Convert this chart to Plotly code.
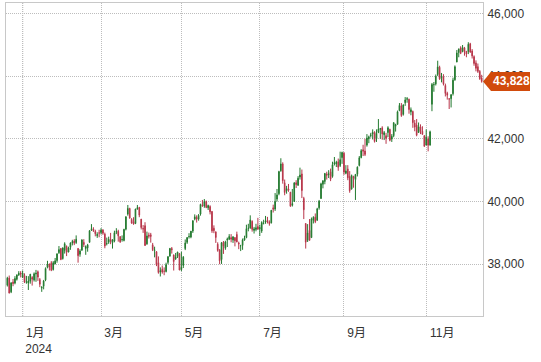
import plotly.graph_objects as go
import pandas as pd

# ---------------- data ----------------
FIRST_DAY = "2023-12-19"
LAST_DAY = "2024-12-13"
HOLIDAYS = ["2023-12-25", "2024-01-01", "2024-01-15", "2024-02-19", "2024-03-29",
            "2024-05-27", "2024-06-19", "2024-07-04", "2024-09-02", "2024-11-28"]

OPEN = [
    # Dec 2023
    37330, 37560, 37120, 37430, 37400, 37520, 37660, 37720,
    # Jan
    37590, 37640, 37420, 37400, 37460, 37580, 37500, 37690, 37760, 37510,
    37240, 37300, 37500, 37900, 38010, 38050, 37830, 38010, 38120, 38370, 38500,
    # Feb
    38180, 38440, 38570, 38390, 38540, 38680, 38740, 38690, 38500, 38320,
    38450, 38700, 38500, 38520, 38700, 39100, 39120, 39050, 38910, 39000,
    # Mar
    39010, 39090, 38960, 38650, 38700, 38800, 38690, 38740, 39020, 39050,
    38880, 38780, 38760, 39120, 39600, 39780, 39430, 39360, 39300, 39760,
    # Apr
    39810, 39440, 39140, 39230, 38650, 38930, 38940, 38620, 38440, 38400,
    38050, 37750, 37840, 37780, 37770, 38060, 38260, 38500, 38300, 38160, 38250, 38340,
    # May
    37830, 37960, 38500, 38700, 38880, 38870, 39060, 39440, 39500, 39440,
    39600, 39890, 39860, 40000, 39800, 39840, 39680, 39150, 39030, 38640, 38460, 38150,
    # Jun
    38700, 38510, 38770, 38800, 38850, 38770, 38850, 38950, 38680, 38580,
    38600, 38770, 38850, 39140, 39160, 39370, 39080, 39110, 39200,
    # Jul
    39130, 39060, 39300, 39350, 39400, 39350, 39320, 39800, 39760, 40080,
    40250, 40980, 41200, 40600, 40340, 40400, 40300, 39880, 40000, 40600, 40520, 40780,
    # Aug
    40880, 40100, 39300, 38760, 39080, 38850, 39400, 39500, 39400, 39800,
    40100, 40550, 40640, 40880, 40850, 40950, 40800, 41200, 41200, 41270, 41150, 41400,
    # Sep
    41540, 40900, 41040, 40800, 40400, 40800, 40700, 40870, 41150, 41400,
    41650, 41610, 41800, 42000, 42100, 42150, 42210, 42000, 42200, 42300,
    # Oct
    42350, 42130, 42100, 42200, 42300, 41990, 42100, 42400, 42460, 42900,
    43050, 42780, 43150, 43260, 43260, 42860, 42870, 42500, 42440, 42200, 42380, 42240, 42100,
    # Nov
    41800, 42000, 41800, 43100, 43720, 43750, 44050, 44280, 43930, 43980,
    43700, 43450, 43270, 43280, 43440, 43880, 44450, 44750, 44900, 44780,
    # Dec
    44900, 44790, 44780, 45030, 44800, 44620, 44420, 44300, 44150, 43940,
]

HIGH = [
    37600, 37640, 37430, 37530, 37620, 37680, 37780, 37780,
    37800, 37710, 37630, 37620, 37690, 37620, 37740, 37820, 37800, 37560,
    37300, 37500, 37900, 38110, 38020, 38100, 38100, 38200, 38340, 38580, 38520,
    38540, 38700, 38600, 38560, 38700, 38780, 38800, 38920, 38520, 38480,
    38800, 38800, 38600, 38650, 39090, 39280, 39180, 39100, 39020, 39100,
    39150, 39120, 39010, 38850, 38880, 39000, 38800, 39070, 39150, 39100,
    38900, 38920, 39130, 39530, 39890, 39800, 39470, 39500, 39770, 39890,
    39830, 39440, 39250, 39340, 39040, 39010, 39000, 38680, 38560, 38420,
    38250, 37900, 37960, 37900, 38050, 38260, 38520, 38550, 38300, 38360, 38400, 38360,
    38400, 38260, 38790, 38860, 38990, 39060, 39400, 39590, 39560, 39600,
    39930, 40050, 40080, 40030, 39900, 39880, 39700, 39240, 39050, 38700, 38480, 38710,
    38740, 38750, 38850, 38960, 38960, 38900, 38860, 39040, 38720, 38620,
    38820, 38910, 39260, 39290, 39560, 39400, 39190, 39290, 39480,
    39260, 39370, 39420, 39540, 39510, 39400, 39730, 39900, 40270, 40400,
    40980, 41380, 41250, 40700, 40500, 40560, 40300, 40400, 40620, 40680, 40810, 41080,
    41020, 40150, 39300, 39280, 39440, 39490, 39530, 39620, 39800, 40050,
    40600, 40680, 40900, 40950, 41000, 41050, 41270, 41420, 41300, 41370, 41590, 41590,
    41580, 41160, 41160, 40970, 40860, 40820, 40880, 41120, 41450, 41670,
    41810, 42000, 42150, 42100, 42190, 42300, 42240, 42300, 42630, 42340,
    42400, 42250, 42190, 42400, 42320, 42150, 42530, 42480, 42900, 43140,
    43140, 43100, 43330, 43330, 43280, 43000, 42900, 42600, 42630, 42520, 42460, 42400, 42110,
    42300, 42080, 42260, 43780, 43810, 44050, 44490, 44330, 44100, 44060,
    43760, 43500, 43300, 43420, 43950, 44340, 44830, 44880, 44950, 44990,
    44930, 44800, 45080, 45060, 44860, 44660, 44500, 44400, 44190, 44040,
]

LOW = [
    37290, 37070, 37080, 37300, 37360, 37480, 37630, 37580,
    37560, 37400, 37380, 37180, 37380, 37320, 37450, 37440, 37470, 37270,
    37120, 37200, 37460, 37870, 37800, 37780, 37800, 38000, 38050, 38330, 38130,
    38150, 38340, 38260, 38380, 38460, 38600, 38610, 38650, 38050, 38240,
    38430, 38550, 38300, 38400, 38690, 39060, 39030, 38890, 38840, 38860,
    38950, 38940, 38510, 38600, 38650, 38640, 38500, 38700, 38960, 38720,
    38680, 38720, 38730, 39080, 39550, 39450, 39290, 39260, 39280, 39740,
    39500, 39110, 39000, 38590, 38620, 38820, 38690, 38420, 38220, 37940,
    37700, 37610, 37700, 37650, 37740, 38000, 38240, 38340, 37800, 38150, 38200, 37810,
    37780, 37880, 38450, 38650, 38820, 38830, 39000, 39400, 39330, 39390,
    39550, 39830, 39800, 39790, 39730, 39590, 39000, 38990, 38680, 38400, 38000, 38010,
    38330, 38460, 38550, 38770, 38700, 38680, 38570, 38700, 38480, 38420,
    38460, 38750, 38830, 39050, 39130, 39040, 38980, 39050, 39100,
    38900, 39000, 39270, 39290, 39300, 39230, 39300, 39650, 39700, 40000,
    40200, 40950, 40570, 40200, 40250, 40310, 39830, 39840, 39990, 40430, 40500, 40700,
    40110, 39440, 38500, 38710, 38750, 38840, 39300, 39310, 39390, 39740,
    40080, 40420, 40550, 40700, 40750, 40650, 40760, 41150, 41100, 40980, 41100, 41200,
    40850, 40870, 40680, 40280, 40380, 40440, 40050, 40800, 41120, 41380,
    41450, 41450, 41750, 41860, 42040, 41980, 41880, 41900, 42180, 42000,
    41970, 41960, 41840, 42050, 41920, 41900, 42050, 42230, 42450, 42880,
    42700, 42740, 43050, 43150, 42800, 42750, 42350, 42240, 42080, 42190, 42150, 42130, 41740,
    41790, 41600, 41780, 42880, 43500, 43700, 44000, 43880, 43800, 43700,
    43350, 43250, 42950, 43000, 43380, 43850, 44440, 44600, 44700, 44760,
    44650, 44600, 44700, 44740, 44560, 44330, 44150, 44100, 43880, 43790,
]

CLOSE = [
    37558, 37082, 37404, 37386, 37545, 37657, 37710, 37690,
    37715, 37430, 37440, 37466, 37683, 37525, 37696, 37711, 37593, 37361,
    37267, 37469, 37864, 38002, 37905, 37806, 38049, 38109, 38333, 38467, 38150,
    38520, 38654, 38380, 38521, 38677, 38726, 38672, 38797, 38273, 38424,
    38773, 38628, 38564, 38612, 39069, 39132, 39069, 38972, 38949, 38996,
    39087, 38990, 38585, 38661, 38791, 38723, 38770, 39005, 39043, 38906,
    38715, 38790, 39111, 39512, 39781, 39476, 39314, 39282, 39760, 39807,
    39567, 39170, 39127, 38597, 38904, 38893, 38884, 38462, 38459, 37983,
    37735, 37799, 37753, 37775, 37986, 38240, 38504, 38461, 38086, 38240, 38386, 37816,
    37903, 38226, 38676, 38852, 38884, 39056, 39388, 39513, 39432, 39558,
    39908, 39869, 40004, 39807, 39873, 39671, 39065, 39070, 38853, 38442, 38111, 38686,
    38571, 38711, 38807, 38886, 38799, 38868, 38747, 38712, 38647, 38589,
    38778, 38835, 39135, 39150, 39411, 39112, 39128, 39164, 39119,
    39170, 39332, 39308, 39376, 39345, 39292, 39721, 39754, 40001, 40212,
    40954, 41198, 40665, 40288, 40415, 40358, 39854, 39935, 40589, 40540, 40743, 40843,
    40348, 39737, 38703, 38998, 38763, 39446, 39498, 39357, 39766, 40008,
    40563, 40660, 40897, 40835, 40890, 40713, 41175, 41241, 41251, 41091, 41335, 41563,
    40937, 40975, 40756, 40345, 40830, 40737, 40862, 41097, 41394, 41622,
    41606, 41503, 42025, 42063, 42125, 42208, 41915, 42175, 42313, 42330,
    42157, 42197, 42012, 42353, 41954, 42080, 42512, 42454, 42864, 43065,
    42740, 43078, 43239, 43276, 42932, 42925, 42515, 42374, 42114, 42388, 42233, 42142, 41763,
    42052, 41795, 42222, 43730, 43729, 43989, 44293, 43911, 43958, 43751,
    43445, 43390, 43269, 43408, 43870, 44297, 44737, 44860, 44722, 44911,
    44782, 44706, 45014, 44766, 44643, 44402, 44248, 44149, 43914, 43828,
]

TICK_DATES = ["2024-01-02", "2024-03-01", "2024-05-01", "2024-07-01", "2024-09-03", "2024-11-01"]
NB = "\u00a0"
TICK_LABELS = ["1月" + NB * 2 + "<br>2024", "3月" + NB * 2, "5月" + NB * 2,
               "7月" + NB * 2, "9月" + NB * 2, "11月"]
Y_TICKS = [38000, 40000, 42000, 44000, 46000]
Y_RANGE = [36350, 46330]
X_RANGE = ["2023-12-18 07:40", "2024-12-13 16:20"]

# ---------------- style ----------------
UP = "#237a2f"
DOWN = "#b8364a"
GRID = "#bdbdbd"
BORDER = "#c8c8c8"
TAG = "#d14b0c"
FONT = "Arial, 'Liberation Sans', 'Noto Sans CJK JP', sans-serif"

dates = pd.bdate_range(FIRST_DAY, LAST_DAY, freq="C", holidays=HOLIDAYS)
n = len(dates)
assert len(OPEN) == n and len(HIGH) == n and len(LOW) == n and len(CLOSE) == n, (n, len(OPEN), len(HIGH), len(LOW), len(CLOSE))

fig = go.Figure(go.Candlestick(
    x=dates, open=OPEN, high=HIGH, low=LOW, close=CLOSE,
    increasing=dict(line=dict(color=UP, width=1), fillcolor=UP),
    decreasing=dict(line=dict(color=DOWN, width=1), fillcolor=DOWN),
    whiskerwidth=0, hoverinfo="skip", showlegend=False,
))

fig.update_layout(
    width=541, height=362,
    margin=dict(l=6, r=58, t=3, b=46),
    paper_bgcolor="white", plot_bgcolor="white",
    font=dict(family=FONT, size=12, color="#333333"),
    showlegend=False, boxgap=0.5,
)

fig.update_xaxes(
    type="date", range=X_RANGE,
    rangebreaks=[dict(bounds=["sat", "mon"]), dict(values=HOLIDAYS)],
    rangeslider_visible=False,
    tickmode="array", tickvals=TICK_DATES, ticktext=TICK_LABELS,
    showgrid=True, gridcolor=GRID, griddash="1px,1px", gridwidth=1,
    showline=True, linecolor=BORDER, linewidth=1, mirror=True,
    ticks="", ticklabelshift=16, ticklabelstandoff=6, zeroline=False,
)
fig.update_yaxes(
    side="right", range=Y_RANGE,
    tickmode="array", tickvals=Y_TICKS, tickformat=",d",
    showgrid=True, gridcolor=GRID, griddash="1px,1px", gridwidth=1,
    showline=True, linecolor=BORDER, linewidth=1, mirror=True,
    ticks="", ticklabelstandoff=1, zeroline=False,
)

# year boundary line (darker dotted)
fig.add_shape(type="line", xref="x", yref="paper", x0=TICK_DATES[0], x1=TICK_DATES[0],
              y0=0, y1=1, line=dict(color="#444444", width=1, dash="1px,1px"), layer="below")

# last-price tag
fig.add_shape(type="path", xref="paper", yref="y",
              xsizemode="pixel", ysizemode="pixel",
              xanchor=1, yanchor=CLOSE[-1],
              path="M0,0 L8,9.5 L47,9.5 L47,-9.5 L8,-9.5 Z",
              fillcolor=TAG, line=dict(width=0), layer="above")
fig.add_annotation(x=1, xref="paper", y=CLOSE[-1], yref="y",
                   text=f"<b>{CLOSE[-1]:,}</b>", showarrow=False,
                   xanchor="center", yanchor="middle", xshift=28,
                   font=dict(color="white", size=12, family=FONT))

fig.write_html("out.html", config={"displayModeBar": False},
               post_script="document.body.style.margin='0';document.body.style.overflow='hidden';")
